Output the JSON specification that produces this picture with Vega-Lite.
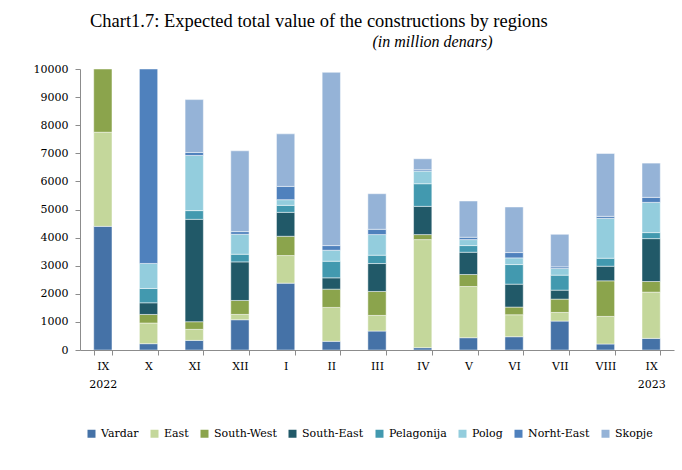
{
  "$schema": "https://vega.github.io/schema/vega-lite/v6.json",
  "width": 594,
  "height": 281,
  "autosize": {"type": "none"},
  "padding": {"left": 80, "top": 69, "right": 8, "bottom": 120},
  "background": "white",
  "title": {
    "text": "Chart1.7: Expected total value of the constructions by regions",
    "anchor": "start",
    "frame": "group",
    "dx": 10,
    "font": "Liberation Serif",
    "fontSize": 18.5,
    "fontWeight": "normal",
    "color": "#000000",
    "offset": 3
  },
  "data": {
    "values": [
      {"m": "IX 2022", "r": "Vardar", "v": 4400},
      {"m": "IX 2022", "r": "East", "v": 3350},
      {"m": "IX 2022", "r": "South-West", "v": 2250},
      {"m": "X", "r": "Vardar", "v": 225},
      {"m": "X", "r": "East", "v": 735},
      {"m": "X", "r": "South-West", "v": 305},
      {"m": "X", "r": "South-East", "v": 415},
      {"m": "X", "r": "Pelagonija", "v": 510},
      {"m": "X", "r": "Polog", "v": 890},
      {"m": "X", "r": "Norht-East", "v": 6920},
      {"m": "XI", "r": "Vardar", "v": 343},
      {"m": "XI", "r": "East", "v": 391},
      {"m": "XI", "r": "South-West", "v": 272},
      {"m": "XI", "r": "South-East", "v": 3644},
      {"m": "XI", "r": "Pelagonija", "v": 310},
      {"m": "XI", "r": "Polog", "v": 1963},
      {"m": "XI", "r": "Norht-East", "v": 107},
      {"m": "XI", "r": "Skopje", "v": 1881},
      {"m": "XII", "r": "Vardar", "v": 1077},
      {"m": "XII", "r": "East", "v": 189},
      {"m": "XII", "r": "South-West", "v": 497},
      {"m": "XII", "r": "South-East", "v": 1373},
      {"m": "XII", "r": "Pelagonija", "v": 272},
      {"m": "XII", "r": "Polog", "v": 710},
      {"m": "XII", "r": "Norht-East", "v": 95},
      {"m": "XII", "r": "Skopje", "v": 2876},
      {"m": "I", "r": "Vardar", "v": 2379},
      {"m": "I", "r": "East", "v": 982},
      {"m": "I", "r": "South-West", "v": 686},
      {"m": "I", "r": "South-East", "v": 852},
      {"m": "I", "r": "Pelagonija", "v": 249},
      {"m": "I", "r": "Polog", "v": 201},
      {"m": "I", "r": "Norht-East", "v": 473},
      {"m": "I", "r": "Skopje", "v": 1870},
      {"m": "II", "r": "Vardar", "v": 308},
      {"m": "II", "r": "East", "v": 1207},
      {"m": "II", "r": "South-West", "v": 651},
      {"m": "II", "r": "South-East", "v": 402},
      {"m": "II", "r": "Pelagonija", "v": 592},
      {"m": "II", "r": "Polog", "v": 390},
      {"m": "II", "r": "Norht-East", "v": 166},
      {"m": "II", "r": "Skopje", "v": 6166},
      {"m": "III", "r": "Vardar", "v": 675},
      {"m": "III", "r": "East", "v": 556},
      {"m": "III", "r": "South-West", "v": 852},
      {"m": "III", "r": "South-East", "v": 994},
      {"m": "III", "r": "Pelagonija", "v": 296},
      {"m": "III", "r": "Polog", "v": 734},
      {"m": "III", "r": "Norht-East", "v": 189},
      {"m": "III", "r": "Skopje", "v": 1266},
      {"m": "IV", "r": "Vardar", "v": 83},
      {"m": "IV", "r": "East", "v": 3846},
      {"m": "IV", "r": "South-West", "v": 178},
      {"m": "IV", "r": "South-East", "v": 1005},
      {"m": "IV", "r": "Pelagonija", "v": 805},
      {"m": "IV", "r": "Polog", "v": 450},
      {"m": "IV", "r": "Norht-East", "v": 47},
      {"m": "IV", "r": "Skopje", "v": 391},
      {"m": "V", "r": "Vardar", "v": 438},
      {"m": "V", "r": "East", "v": 1822},
      {"m": "V", "r": "South-West", "v": 426},
      {"m": "V", "r": "South-East", "v": 793},
      {"m": "V", "r": "Pelagonija", "v": 237},
      {"m": "V", "r": "Polog", "v": 213},
      {"m": "V", "r": "Norht-East", "v": 83},
      {"m": "V", "r": "Skopje", "v": 1290},
      {"m": "VI", "r": "Vardar", "v": 473},
      {"m": "VI", "r": "East", "v": 781},
      {"m": "VI", "r": "South-West", "v": 273},
      {"m": "VI", "r": "South-East", "v": 816},
      {"m": "VI", "r": "Pelagonija", "v": 698},
      {"m": "VI", "r": "Polog", "v": 237},
      {"m": "VI", "r": "Norht-East", "v": 189},
      {"m": "VI", "r": "Skopje", "v": 1622},
      {"m": "VII", "r": "Vardar", "v": 1030},
      {"m": "VII", "r": "East", "v": 307},
      {"m": "VII", "r": "South-West", "v": 474},
      {"m": "VII", "r": "South-East", "v": 319},
      {"m": "VII", "r": "Pelagonija", "v": 533},
      {"m": "VII", "r": "Polog", "v": 236},
      {"m": "VII", "r": "Norht-East", "v": 60},
      {"m": "VII", "r": "Skopje", "v": 1159},
      {"m": "VIII", "r": "Vardar", "v": 213},
      {"m": "VIII", "r": "East", "v": 982},
      {"m": "VIII", "r": "South-West", "v": 1267},
      {"m": "VIII", "r": "South-East", "v": 520},
      {"m": "VIII", "r": "Pelagonija", "v": 284},
      {"m": "VIII", "r": "Polog", "v": 1420},
      {"m": "VIII", "r": "Norht-East", "v": 71},
      {"m": "VIII", "r": "Skopje", "v": 2237},
      {"m": "IX 2023", "r": "Vardar", "v": 414},
      {"m": "IX 2023", "r": "East", "v": 1645},
      {"m": "IX 2023", "r": "South-West", "v": 379},
      {"m": "IX 2023", "r": "South-East", "v": 1526},
      {"m": "IX 2023", "r": "Pelagonija", "v": 214},
      {"m": "IX 2023", "r": "Polog", "v": 1076},
      {"m": "IX 2023", "r": "Norht-East", "v": 178},
      {"m": "IX 2023", "r": "Skopje", "v": 1219}
    ]
  },
  "transform": [
    {"calculate": "indexof(['Vardar','East','South-West','South-East','Pelagonija','Polog','Norht-East','Skopje'], datum.r)", "as": "k"}
  ],
  "mark": {"type": "bar", "stroke": "#ffffff", "strokeWidth": 0.6, "strokeOpacity": 0.8, "clip": true},
  "encoding": {
    "x": {
      "field": "m",
      "type": "nominal",
      "sort": ["IX 2022", "X", "XI", "XII", "I", "II", "III", "IV", "V", "VI", "VII", "VIII", "IX 2023"],
      "scale": {"paddingInner": 0.6, "paddingOuter": 0.3},
      "axis": {
        "title": null,
        "labelAngle": 0,
        "labelExpr": "split(datum.label, ' ')",
        "labelFont": "DejaVu Serif",
        "labelFontSize": 11,
        "labelColor": "#000000",
        "labelLineHeight": 18,
        "labelPadding": 5,
        "tickBand": "extent",
        "tickSize": 5,
        "tickColor": "#8c8c8c",
        "domainColor": "#8c8c8c",
        "grid": false
      }
    },
    "y": {
      "field": "v",
      "type": "quantitative",
      "stack": "zero",
      "scale": {"domain": [0, 10000], "nice": false},
      "axis": {
        "title": "(in million denars)",
        "titleAngle": 0,
        "titleX": 352,
        "titleY": -23,
        "titleAlign": "center",
        "titleBaseline": "alphabetic",
        "titleFont": "Liberation Serif",
        "titleFontSize": 16,
        "titleFontStyle": "italic",
        "titleFontWeight": "normal",
        "titleColor": "#000000",
        "values": [0, 1000, 2000, 3000, 4000, 5000, 6000, 7000, 8000, 9000, 10000],
        "format": "d",
        "labelFont": "DejaVu Serif",
        "labelFontSize": 11,
        "labelColor": "#000000",
        "labelPadding": 7,
        "tickSize": 5,
        "tickColor": "#8c8c8c",
        "domainColor": "#8c8c8c",
        "grid": false
      }
    },
    "order": {"field": "k", "type": "quantitative", "sort": "ascending"},
    "color": {
      "field": "r",
      "type": "nominal",
      "sort": ["Vardar", "East", "South-West", "South-East", "Pelagonija", "Polog", "Norht-East", "Skopje"],
      "scale": {
        "domain": ["Vardar", "East", "South-West", "South-East", "Pelagonija", "Polog", "Norht-East", "Skopje"],
        "range": ["#4572A7", "#C4D79B", "#8BA44C", "#215968", "#4299AF", "#93CDDD", "#4F81BD", "#95B3D7"]
      },
      "legend": {
        "title": null,
        "orient": "none",
        "legendX": 6,
        "legendY": 359,
        "direction": "horizontal",
        "columns": 8,
        "symbolType": "square",
        "symbolSize": 64,
        "symbolStrokeWidth": 0,
        "labelFont": "DejaVu Serif",
        "labelFontSize": 11,
        "labelColor": "#000000",
        "labelOffset": 4,
        "columnPadding": 10
      }
    }
  },
  "config": {"view": {"stroke": null}}
}
